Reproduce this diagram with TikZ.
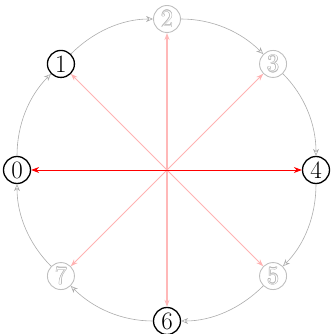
\documentclass[tikz,border=0pt]{standalone}
\usetikzlibrary{arrows.meta}
\newcommand\ctrpiece[3]{\rlap{\hspace*{#1}\raisebox{#2}{#3}}}
\newcommand\hollowtxt[1]{{\color{gray!55}%
\ctrpiece{0.6pt}{0pt}{#1}\ctrpiece{-0.6pt}{0pt}{#1}\ctrpiece{0pt}{0.6pt}{#1}\ctrpiece{0pt}{-0.6pt}{#1}%
\ctrpiece{0.42pt}{0.42pt}{#1}\ctrpiece{-0.42pt}{0.42pt}{#1}\ctrpiece{0.42pt}{-0.42pt}{#1}\ctrpiece{-0.42pt}{-0.42pt}{#1}}%
\textcolor{white}{#1}}
\begin{document}
\begin{tikzpicture}[x=1pt,y=1pt,
 statenode/.style={circle,draw,line width=1.3pt,minimum size=27pt,inner sep=0pt,font=\fontsize{25}{25}\selectfont},
 dimnode/.style={statenode,draw=gray!50,line width=0.9pt},
 ring/.style={draw=gray!65,line width=0.6pt,looseness=0.9,-{Stealth[open,length=7pt,width=6pt]}},
 spoke/.style={draw=red!30,line width=1pt,-{Stealth[length=7pt,width=5pt]}},
 vspoke/.style={spoke,draw=red!28,line width=1.2pt},
 mainspoke/.style={draw=red,line width=0.9pt,-{Stealth[length=8pt,width=6pt]}}]
\useasboundingbox (-167,-164) rectangle (164,170);
\coordinate (c) at (0,0);
\node[statenode] (n0) at (180:150) {0};
\node[statenode] (n1) at (135:150) {1};
\node[dimnode] (n2) at (90:151) {\hollowtxt{2}};
\node[dimnode] (n3) at (45:150) {\hollowtxt{3}};
\node[statenode] (n4) at (0:149) {4};
\node[dimnode] (n5) at (-45:150) {\hollowtxt{5}};
\node[statenode] (n6) at (-90:151) {6};
\node[dimnode] (n7) at (-135:150) {\hollowtxt{7}};
\draw[ring] (n0) to[out=90,in=225] (n1);
\draw[ring] (n1) to[out=45,in=180] (n2);
\draw[ring] (n2) to[out=0,in=135] (n3);
\draw[ring] (n3) to[out=-45,in=90] (n4);
\draw[ring] (n4) to[out=-90,in=45] (n5);
\draw[ring] (n5) to[out=-135,in=0] (n6);
\draw[ring] (n6) to[out=180,in=-45] (n7);
\draw[ring] (n7) to[out=135,in=-90] (n0);
\foreach \t in {n1,n3,n5,n7} \draw[spoke] (c) -- (\t);
\draw[vspoke] (c) -- (n2);
\draw[vspoke] (c) -- (n6);
\draw[mainspoke] (c) -- (n0);
\draw[mainspoke] (c) -- (n4);
\end{tikzpicture}
\end{document}
